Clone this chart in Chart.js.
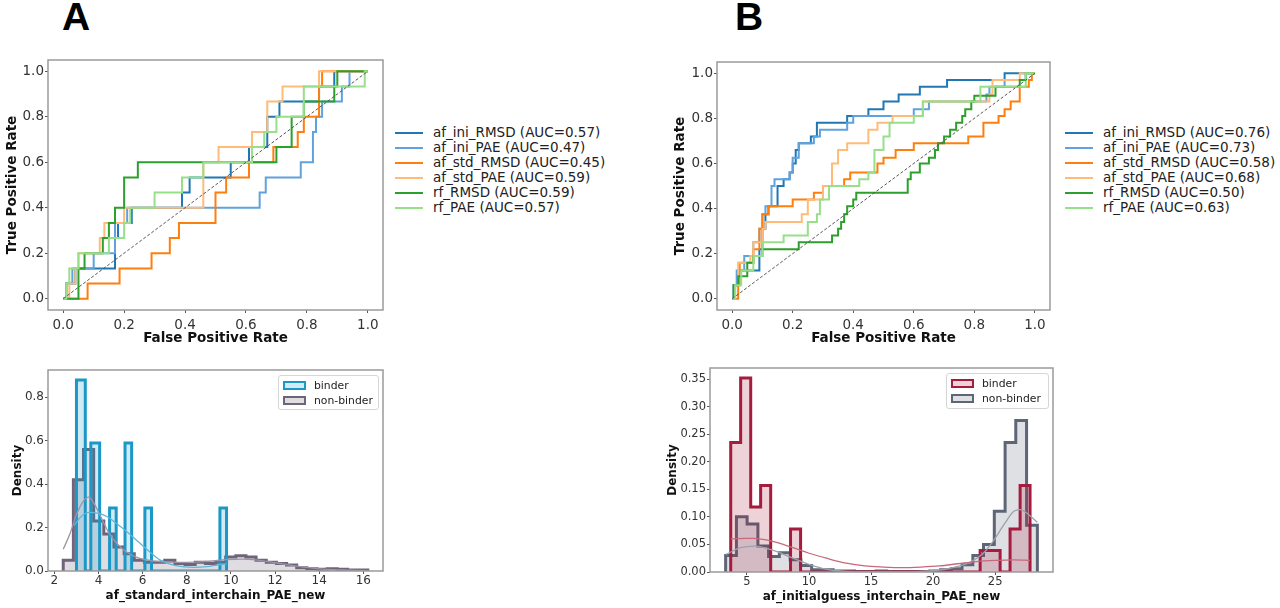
<!DOCTYPE html>
<html>
<head>
<meta charset="utf-8">
<script src="https://cdn.jsdelivr.net/npm/chart.js@4.4.1/dist/chart.umd.min.js"></script>
<style>
  body { margin: 0; width: 1280px; height: 608px; background: #fff; position: relative; overflow: hidden; font-family: "DejaVu Sans", sans-serif; }
  canvas { position: absolute; }
  .panel { position: absolute; font-family: "Liberation Sans", Arial, sans-serif; font-weight: bold; font-size: 39px; line-height: 39px; color: #000; }
  .leg { position: absolute; font-size: 13.5px; color: #222; }
  .leg .row { position: relative; height: 15px; line-height: 15px; white-space: nowrap; }
  .leg .swatch { position: absolute; left: 0; top: 6.5px; width: 28px; height: 2px; }
  .leg .txt { position: absolute; left: 38px; top: 0; }
  .hleg { position: absolute; border: 1px solid #d6d6d6; border-radius: 3px; background: rgba(255,255,255,0.85); font-size: 10.8px; color: #222; box-sizing: border-box; }
  .hleg .row { position: relative; height: 15px; line-height: 15px; white-space: nowrap; }
  .hleg .patch { position: absolute; left: 4px; top: 3px; width: 19px; height: 5px; border-width: 2.5px; border-style: solid; }
  .hleg .txt { position: absolute; left: 35px; top: 0; }
</style>
</head>
<body>
<div class="panel" style="left:62px; top:-3px;">A</div>
<div class="panel" style="left:735px; top:-3px;">B</div>

<canvas id="rocA" width="392" height="300" style="left:0px; top:50px;"></canvas>
<canvas id="rocB" width="400" height="300" style="left:660px; top:50px;"></canvas>
<canvas id="histA" width="392" height="248" style="left:0px; top:360px;"></canvas>
<canvas id="histB" width="400" height="248" style="left:660px; top:360px;"></canvas>

<div class="leg" id="legA" style="left:395px; top:125px;"></div>
<div class="leg" id="legB" style="left:1065px; top:125px;"></div>
<div class="hleg" id="hlegA" style="left:278px; top:375px; width:101px; height:35px;"></div>
<div class="hleg" id="hlegB" style="left:946px; top:373px; width:103px; height:36px;"></div>

<script>
// ---- ROC curves: each point is where the curve rises (fpr, new tpr) ----
const rocNames = ["af_ini_RMSD", "af_ini_PAE", "af_std_RMSD", "af_std_PAE", "rf_RMSD", "rf_PAE"];
const aucA = [0.57, 0.47, 0.45, 0.59, 0.59, 0.57];
const aucB = [0.76, 0.73, 0.58, 0.68, 0.50, 0.63];
const rocTicks = [0, 0.2, 0.4, 0.6, 0.8, 1.0];
const diagonal = [0, 1];

// panel A
const A_iniRMSD_fpr = [0.01, 0.04, 0.17, 0.18, 0.225, 0.39, 0.415, 0.55, 0.61, 0.67, 0.71, 0.84, 0.89];
const A_iniRMSD_tpr = [0.067, 0.133, 0.267, 0.333, 0.4, 0.467, 0.533, 0.6, 0.667, 0.8, 0.867, 0.933, 1.0];
const A_iniPAE_fpr = [0.01, 0.03, 0.1, 0.17, 0.21, 0.645, 0.665, 0.78, 0.82, 0.83, 0.85, 0.915, 0.94];
const A_iniPAE_tpr = [0.067, 0.133, 0.2, 0.333, 0.4, 0.467, 0.533, 0.6, 0.733, 0.8, 0.867, 0.933, 1.0];
const A_stdRMSD_fpr = [0.08, 0.185, 0.29, 0.35, 0.38, 0.5, 0.535, 0.61, 0.69, 0.77, 0.79, 0.84, 0.85];
const A_stdRMSD_tpr = [0.067, 0.133, 0.2, 0.267, 0.333, 0.467, 0.533, 0.6, 0.667, 0.733, 0.8, 0.933, 1.0];
const A_stdPAE_fpr = [0.02, 0.04, 0.05, 0.12, 0.135, 0.2, 0.46, 0.51, 0.62, 0.67, 0.72, 0.84];
const A_stdPAE_tpr = [0.067, 0.133, 0.2, 0.267, 0.333, 0.4, 0.6, 0.667, 0.733, 0.867, 0.933, 1.0];
const A_rfRMSD_fpr = [0.05, 0.07, 0.13, 0.15, 0.17, 0.2, 0.245, 0.7, 0.75, 0.79, 0.89, 0.9];
const A_rfRMSD_tpr = [0.133, 0.2, 0.267, 0.333, 0.4, 0.533, 0.6, 0.667, 0.8, 0.867, 0.933, 1.0];
const A_rfPAE_fpr = [0.01, 0.02, 0.05, 0.15, 0.2, 0.22, 0.3, 0.39, 0.46, 0.62, 0.66, 0.7, 0.79, 0.99];
const A_rfPAE_tpr = [0.067, 0.133, 0.2, 0.267, 0.333, 0.4, 0.467, 0.533, 0.6, 0.667, 0.733, 0.8, 0.933, 1.0];

// panel B
const B_iniRMSD_fpr = [0.005, 0.02, 0.09, 0.1, 0.11, 0.12, 0.15, 0.17, 0.19, 0.2, 0.21, 0.22, 0.26, 0.28, 0.38, 0.45, 0.5, 0.55, 0.62, 0.71, 0.9];
const B_iniRMSD_tpr = [0.06, 0.125, 0.22, 0.31, 0.375, 0.41, 0.5, 0.53, 0.56, 0.6, 0.66, 0.69, 0.72, 0.78, 0.81, 0.84, 0.875, 0.906, 0.94, 0.97, 1.0];
const B_iniPAE_fpr = [0.005, 0.015, 0.04, 0.07, 0.09, 0.1, 0.11, 0.13, 0.14, 0.19, 0.2, 0.22, 0.27, 0.29, 0.38, 0.4, 0.6, 0.65, 0.84, 0.85, 0.9, 0.97];
const B_iniPAE_tpr = [0.06, 0.125, 0.19, 0.25, 0.31, 0.375, 0.41, 0.5, 0.53, 0.56, 0.625, 0.69, 0.72, 0.75, 0.78, 0.81, 0.84, 0.875, 0.906, 0.94, 0.97, 1.0];
const B_stdRMSD_fpr = [0.02, 0.025, 0.07, 0.09, 0.1, 0.12, 0.2, 0.27, 0.3, 0.37, 0.39, 0.48, 0.5, 0.54, 0.6, 0.78, 0.83, 0.88, 0.9, 0.92, 0.95, 0.98, 0.99];
const B_stdRMSD_tpr = [0.06, 0.16, 0.22, 0.31, 0.375, 0.41, 0.44, 0.47, 0.5, 0.53, 0.56, 0.6, 0.625, 0.66, 0.69, 0.72, 0.78, 0.81, 0.84, 0.875, 0.94, 0.97, 1.0];
const B_stdPAE_fpr = [0.01, 0.02, 0.06, 0.07, 0.1, 0.11, 0.23, 0.25, 0.3, 0.33, 0.35, 0.38, 0.45, 0.48, 0.53, 0.63, 0.85, 0.86, 0.95];
const B_stdPAE_tpr = [0.06, 0.16, 0.19, 0.25, 0.31, 0.34, 0.375, 0.44, 0.5, 0.6, 0.66, 0.69, 0.75, 0.78, 0.81, 0.875, 0.906, 0.97, 1.0];
const B_rfRMSD_fpr = [0.005, 0.02, 0.05, 0.07, 0.1, 0.22, 0.33, 0.35, 0.36, 0.37, 0.38, 0.4, 0.41, 0.58, 0.59, 0.62, 0.65, 0.67, 0.68, 0.7, 0.72, 0.74, 0.76, 0.77, 0.79, 0.8, 0.87, 0.95, 0.97];
const B_rfRMSD_tpr = [0.06, 0.1, 0.16, 0.19, 0.22, 0.25, 0.28, 0.31, 0.34, 0.375, 0.41, 0.44, 0.47, 0.53, 0.56, 0.6, 0.625, 0.66, 0.69, 0.72, 0.75, 0.78, 0.81, 0.84, 0.875, 0.9, 0.94, 0.97, 1.0];
const B_rfPAE_fpr = [0.01, 0.03, 0.07, 0.1, 0.17, 0.25, 0.28, 0.29, 0.32, 0.42, 0.45, 0.47, 0.5, 0.52, 0.6, 0.63, 0.82, 0.97];
const B_rfPAE_tpr = [0.06, 0.125, 0.19, 0.25, 0.28, 0.34, 0.375, 0.44, 0.5, 0.53, 0.56, 0.66, 0.72, 0.78, 0.81, 0.875, 0.94, 1.0];

// ---- histograms (density) and KDE lines ----
const histA_ticksX = [2, 4, 6, 8, 10, 12, 14, 16];
const histA_ticksY = [0, 0.2, 0.4, 0.6, 0.8];
const histA_binder_edges = [3.0, 3.4, 3.65, 4.05, 4.5, 4.8, 5.2, 5.5, 6.1, 6.4, 9.5, 9.8];
const histA_binder_dens = [0.88, 0, 0.59, 0, 0.29, 0, 0.59, 0, 0.29, 0, 0.29];
const histA_nonbinder_edges = [2.40, 2.86, 3.32, 3.78, 4.24, 4.70, 5.16, 5.62, 6.08, 6.54, 7.00, 7.46, 7.92, 8.38, 8.84, 9.30, 9.76, 10.22, 10.68, 11.14, 11.60, 12.06, 12.52, 12.98, 13.44, 13.90, 14.36, 14.82, 15.28, 15.74, 16.20];
const histA_nonbinder_dens = [0.05, 0.42, 0.56, 0.23, 0.17, 0.11, 0.08, 0.05, 0.04, 0.04, 0.05, 0.035, 0.03, 0.04, 0.035, 0.04, 0.065, 0.07, 0.065, 0.05, 0.04, 0.035, 0.028, 0.015, 0.01, 0.008, 0.01, 0.008, 0.005, 0.005];
const kdeA_binder_x = [2.9, 3.2, 3.6, 4.0, 4.4, 4.8, 5.3, 5.8, 6.3, 6.8, 7.5, 8.3, 8.9, 9.5, 9.8];
const kdeA_binder_y = [0.21, 0.25, 0.27, 0.265, 0.25, 0.22, 0.18, 0.135, 0.09, 0.05, 0.025, 0.017, 0.02, 0.03, 0.032];
const kdeA_nonbinder_x = [2.4, 2.7, 3.0, 3.3, 3.55, 3.8, 4.1, 4.5, 4.9, 5.3, 5.8, 6.4, 7.0, 8.0, 9.0, 9.8, 10.5, 11.2, 12.0, 13.0, 14.0, 15.0, 16.2];
const kdeA_nonbinder_y = [0.10, 0.17, 0.26, 0.32, 0.34, 0.31, 0.25, 0.17, 0.12, 0.085, 0.06, 0.047, 0.042, 0.04, 0.045, 0.052, 0.055, 0.05, 0.038, 0.022, 0.01, 0.005, 0.002];

const histB_ticksX = [5, 10, 15, 20, 25];
const histB_ticksY = [0, 0.05, 0.10, 0.15, 0.20, 0.25, 0.30, 0.35];
const histB_binder_edges = [3.69, 4.49, 5.30, 6.10, 6.91, 7.71, 8.51, 9.32, 23.79, 24.59, 25.40, 26.20, 27.01, 27.81];
const histB_binder_dens = [0.235, 0.352, 0.118, 0.157, 0, 0, 0.078, 0, 0.039, 0.039, 0, 0.078, 0.157];
const histB_nonbinder_edges = [3.28, 4.15, 5.01, 5.88, 6.74, 7.61, 8.48, 9.34, 10.21, 11.07, 11.94, 12.81, 13.67, 14.54, 15.40, 16.27, 17.14, 18.00, 18.87, 19.73, 20.60, 21.47, 22.33, 23.20, 24.06, 24.93, 25.80, 26.66, 27.53, 28.40];
const histB_nonbinder_dens = [0.03, 0.10, 0.087, 0.047, 0.028, 0.035, 0.022, 0.012, 0.004, 0.004, 0.002, 0.002, 0.001, 0.001, 0.002, 0.001, 0.001, 0.001, 0.001, 0.002, 0.004, 0.006, 0.013, 0.03, 0.05, 0.11, 0.235, 0.275, 0.085];
const kdeB_binder_x = [3.7, 5.0, 5.5, 7.0, 8.7, 10.0, 11.4, 13.0, 14.5, 16.0, 17.5, 19.0, 20.5, 22.0, 23.5, 25.0, 26.5, 27.8];
const kdeB_binder_y = [0.06, 0.061, 0.061, 0.056, 0.044, 0.034, 0.025, 0.016, 0.011, 0.009, 0.008, 0.009, 0.011, 0.015, 0.019, 0.021, 0.022, 0.021];
const kdeB_nonbinder_x = [3.3, 4.5, 5.6, 7.0, 8.5, 10.0, 11.4, 13.0, 15.0, 17.0, 19.0, 21.0, 22.0, 23.0, 24.0, 24.9, 25.8, 26.5, 27.0, 27.7, 28.4];
const kdeB_nonbinder_y = [0.032, 0.044, 0.047, 0.04, 0.027, 0.014, 0.005, 0.001, 0.0, 0.0, 0.001, 0.005, 0.01, 0.018, 0.033, 0.058, 0.089, 0.11, 0.113, 0.104, 0.09];

const histLabels = ["binder", "non-binder"];

// ---- styling ----
const rocColors = ["#1f77b4", "#5fa2dd", "#ff7f0e", "#ffbb78", "#2ca02c", "#98df8a"];
const FONT = "DejaVu Sans";

// rise points -> staircase polyline
function rocPoints(fpr, tpr) {
  const pts = [{ x: 0, y: 0 }];
  let prevT = 0;
  for (let i = 0; i < fpr.length; i++) {
    pts.push({ x: fpr[i], y: prevT });
    pts.push({ x: fpr[i], y: tpr[i] });
    prevT = tpr[i];
  }
  pts.push({ x: 1, y: prevT });
  return pts;
}

// bin edges + heights -> step outline
function stepPoints(edges, dens) {
  const pts = [{ x: edges[0], y: 0 }];
  for (let i = 0; i < dens.length; i++) {
    pts.push({ x: edges[i], y: dens[i] });
    pts.push({ x: edges[i + 1], y: dens[i] });
  }
  pts.push({ x: edges[edges.length - 1], y: 0 });
  return pts;
}

function xyPoints(xs, ys) {
  return xs.map((x, i) => ({ x: x, y: ys[i] }));
}

// gray frame round the plot area
const framePlugin = {
  id: "frame",
  afterDatasetsDraw(chart) {
    const a = chart.chartArea;
    const c = chart.ctx;
    c.save();
    c.strokeStyle = "#9a9a9a";
    c.lineWidth = 1.5;
    c.strokeRect(a.left, a.top, a.right - a.left, a.bottom - a.top);
    c.restore();
  },
};

function axis(o) {
  return {
    type: "linear",
    min: o.min,
    max: o.max,
    afterBuildTicks: (s) => { s.ticks = o.ticks.map((v) => ({ value: v })); },
    afterFit: (s) => {
      if (o.w) s.width = o.w;
      if (o.h) s.height = o.h;
    },
    grid: { display: true, drawOnChartArea: false, drawTicks: true, tickLength: 3, color: "#555", lineWidth: 1 },
    border: { display: false },
    ticks: {
      padding: o.pad,
      color: "#333",
      autoSkip: false,
      maxRotation: 0,
      font: { size: o.fs, family: FONT },
      callback: (v) => v.toFixed(o.dec),
    },
    title: {
      display: true,
      text: o.title,
      color: "#111",
      padding: 0,
      font: { size: o.ts, weight: "bold", family: FONT, lineHeight: 1.2 },
    },
  };
}

function makeChart(id, datasets, padding, xAxis, yAxis) {
  const ctx = document.getElementById(id).getContext("2d");
  return new Chart(ctx, {
    type: "line",
    data: { datasets: datasets },
    options: {
      responsive: false,
      animation: false,
      events: [],
      layout: { padding: padding },
      elements: { point: { radius: 0 }, line: { tension: 0 } },
      scales: { x: xAxis, y: yAxis },
      plugins: { legend: { display: false }, tooltip: { enabled: false } },
    },
    plugins: [framePlugin],
  });
}

function rocDatasets(curves) {
  const ds = curves.map((c, i) => ({
    label: rocNames[i],
    data: rocPoints(c[0], c[1]),
    borderColor: rocColors[i],
    borderWidth: 2,
    fill: false,
    order: curves.length - i,
  }));
  ds.push({
    label: "chance",
    data: xyPoints(diagonal, diagonal),
    borderColor: "#555",
    borderWidth: 1,
    borderDash: [3, 2],
    fill: false,
    order: -1,
  });
  return ds;
}

function histDatasets(h, colors) {
  return [
    { label: histLabels[0] + " kde", data: xyPoints(h.kbx, h.kby), borderColor: colors.bk, borderWidth: 1.3, fill: false, tension: 0.4, cubicInterpolationMode: "monotone", order: -2 },
    { label: histLabels[1] + " kde", data: xyPoints(h.knx, h.kny), borderColor: colors.nk, borderWidth: 1.3, fill: false, tension: 0.4, cubicInterpolationMode: "monotone", order: -1 },
    { label: histLabels[0], data: stepPoints(h.be, h.bd), borderColor: colors.b, backgroundColor: colors.bf, borderWidth: 3, fill: "origin", order: 0 },
    { label: histLabels[1], data: stepPoints(h.ne, h.nd), borderColor: colors.n, backgroundColor: colors.nf, borderWidth: 3, fill: "origin", order: 1 },
  ];
}

// ---- panel A ROC ----
makeChart(
  "rocA",
  rocDatasets([
    [A_iniRMSD_fpr, A_iniRMSD_tpr], [A_iniPAE_fpr, A_iniPAE_tpr],
    [A_stdRMSD_fpr, A_stdRMSD_tpr], [A_stdPAE_fpr, A_stdPAE_tpr],
    [A_rfRMSD_fpr, A_rfRMSD_tpr], [A_rfPAE_fpr, A_rfPAE_tpr],
  ]),
  { left: 4, top: 10, right: 9, bottom: 3 },
  axis({ min: -0.05, max: 1.05, ticks: rocTicks, dec: 1, pad: 4, h: 37, fs: 13.5, ts: 13.5, title: "False Positive Rate" }),
  axis({ min: -0.05, max: 1.05, ticks: rocTicks, dec: 1, pad: 1, w: 44, fs: 13.5, ts: 13.5, title: "True Positive Rate" })
);

// ---- panel B ROC ----
makeChart(
  "rocB",
  rocDatasets([
    [B_iniRMSD_fpr, B_iniRMSD_tpr], [B_iniPAE_fpr, B_iniPAE_tpr],
    [B_stdRMSD_fpr, B_stdRMSD_tpr], [B_stdPAE_fpr, B_stdPAE_tpr],
    [B_rfRMSD_fpr, B_rfRMSD_tpr], [B_rfPAE_fpr, B_rfPAE_tpr],
  ]),
  { left: 12, top: 12, right: 10, bottom: 3 },
  axis({ min: -0.05, max: 1.05, ticks: rocTicks, dec: 1, pad: 4, h: 37, fs: 13.5, ts: 13.5, title: "False Positive Rate" }),
  axis({ min: -0.05, max: 1.05, ticks: rocTicks, dec: 1, pad: 1, w: 45, fs: 13.5, ts: 13.5, title: "True Positive Rate" })
);

// ---- panel A histogram ----
const colorsA = { b: "#1a98c8", bf: "rgba(26,152,200,0.2)", bk: "#5cb7db", n: "#6f6479", nf: "rgba(111,100,121,0.22)", nk: "#9d95a6" };
makeChart(
  "histA",
  histDatasets({
    be: histA_binder_edges, bd: histA_binder_dens, ne: histA_nonbinder_edges, nd: histA_nonbinder_dens,
    kbx: kdeA_binder_x, kby: kdeA_binder_y, knx: kdeA_nonbinder_x, kny: kdeA_nonbinder_y,
  }, colorsA),
  { left: 11, top: 10, right: 9, bottom: 5 },
  axis({ min: 1.71, max: 16.89, ticks: histA_ticksX, dec: 0, pad: 0, h: 32, fs: 12, ts: 12, title: "af_standard_interchain_PAE_new" }),
  axis({ min: 0, max: 0.926, ticks: histA_ticksY, dec: 1, pad: 1, w: 37, fs: 12, ts: 12, title: "Density" })
);

// ---- panel B histogram ----
const colorsB = { b: "#a51c3e", bf: "rgba(165,28,62,0.2)", bk: "#c7687c", n: "#5e6577", nf: "rgba(94,101,119,0.2)", nk: "#9ca1ab" };
makeChart(
  "histB",
  histDatasets({
    be: histB_binder_edges, bd: histB_binder_dens, ne: histB_nonbinder_edges, nd: histB_nonbinder_dens,
    kbx: kdeB_binder_x, kby: kdeB_binder_y, knx: kdeB_nonbinder_x, kny: kdeB_nonbinder_y,
  }, colorsB),
  { left: 6, top: 8, right: 7, bottom: 4 },
  axis({ min: 2.02, max: 29.66, ticks: histB_ticksX, dec: 0, pad: 0, h: 32, fs: 11.5, ts: 12, title: "af_initialguess_interchain_PAE_new" }),
  axis({ min: 0, max: 0.37, ticks: histB_ticksY, dec: 2, pad: 1, w: 44, fs: 11.5, ts: 12, title: "Density" })
);

// ---- legends ----
function rocLegend(id, aucs) {
  const el = document.getElementById(id);
  el.innerHTML = rocNames.map((n, i) =>
    `<div class="row"><span class="swatch" style="background:${rocColors[i]}"></span>` +
    `<span class="txt">${n} (AUC=${aucs[i].toFixed(2)})</span></div>`
  ).join("");
}
rocLegend("legA", aucA);
rocLegend("legB", aucB);

function histLegend(id, colors) {
  const el = document.getElementById(id);
  const pairs = [[colors.b, colors.bf], [colors.n, colors.nf]];
  el.innerHTML = `<div style="padding:2px 0 0 0">` + histLabels.map((l, i) =>
    `<div class="row"><span class="patch" style="border-color:${pairs[i][0]};background:${pairs[i][1]}"></span>` +
    `<span class="txt">${l}</span></div>`
  ).join("") + `</div>`;
}
histLegend("hlegA", colorsA);
histLegend("hlegB", colorsB);
</script>
</body>
</html>
